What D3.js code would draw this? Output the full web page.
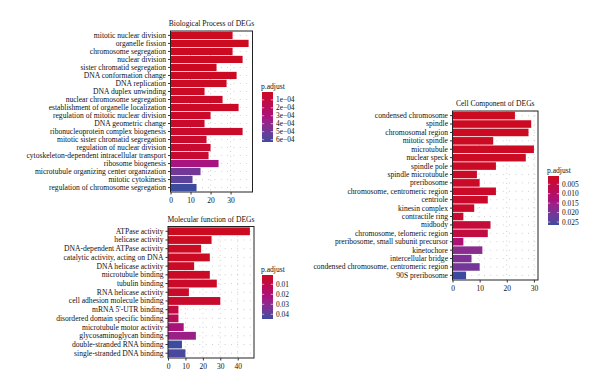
<!DOCTYPE html>
<html><head><meta charset="utf-8">
<script src="https://cdn.jsdelivr.net/npm/d3@7"></script>
<style>body{margin:0;background:#fff}svg{display:block}text{font-family:"Liberation Serif","DejaVu Serif",serif;fill:#111}</style>
</head><body><svg id="c" width="600" height="390"></svg>
<script>
// ---- Biological Process ----
const bpTerms = ["mitotic nuclear division","organelle fission","chromosome segregation","nuclear division","sister chromatid segregation","DNA conformation change","DNA replication","DNA duplex unwinding","nuclear chromosome segregation","establishment of organelle localization","regulation of mitotic nuclear division","DNA geometric change","ribonucleoprotein complex biogenesis","mitotic sister chromatid segregation","regulation of nuclear division","cytoskeleton-dependent intracellular transport","ribosome biogenesis","microtubule organizing center organization","mitotic cytokinesis","regulation of chromosome segregation"];
const bpCounts = [31,39,31,36,23,33,28,17,26,34,20,17,36,18,20,19,24,15,11,13];
const bpPadj = [1e-6,2e-6,3e-6,5e-6,8e-6,1e-5,1.2e-5,1.5e-5,2e-5,2.2e-5,2.5e-5,3e-5,3.5e-5,4e-5,5e-5,5.5e-5,3.2e-4,5.0e-4,5.6e-4,6.3e-4];
const bpXTicks = [0,10,20,30];
const bpLegendTicks = [1e-4,2e-4,3e-4,4e-4,5e-4,6e-4];
const bpLegendLabels = ["1e\u221204","2e\u221204","3e\u221204","4e\u221204","5e\u221204","6e\u221204"];

// ---- Molecular Function ----
const mfTerms = ["ATPase activity","helicase activity","DNA-dependent ATPase activity","catalytic activity, acting on DNA","DNA helicase activity","microtubule binding","tubulin binding","RNA helicase activity","cell adhesion molecule binding","mRNA 5'-UTR binding","disordered domain specific binding","microtubule motor activity","glycosaminoglycan binding","double-stranded RNA binding","single-stranded DNA binding"];
const mfCounts = [47,25,19,24,15,24,28,12,30,6,6,9,16,8,10];
const mfPadj = [0.0007,0.0009,0.0012,0.0015,0.0018,0.002,0.0024,0.003,0.0035,0.0075,0.013,0.022,0.026,0.0447,0.043];
const mfXTicks = [0,10,20,30,40];
const mfLegendTicks = [0.01,0.02,0.03,0.04];
const mfLegendLabels = ["0.01","0.02","0.03","0.04"];

// ---- Cell Component ----
const ccTerms = ["condensed chromosome","spindle","chromosomal region","mitotic spindle","microtubule","nuclear speck","spindle pole","spindle microtubule","preribosome","chromosome, centromeric region","centriole","kinesin complex","contractile ring","midbody","chromosome, telomeric region","preribosome, small subunit precursor","kinetochore","intercellular bridge","condensed chromosome, centromeric region","90S preribosome"];
const ccCounts = [23,29,28,15,30,27,16,9,10,16,13,8,4,14,13,4,11,7,10,5];
const ccPadj = [0.0006,0.0007,0.0008,0.0009,0.001,0.0011,0.0012,0.0013,0.0014,0.0016,0.0018,0.002,0.0025,0.0038,0.0048,0.012,0.018,0.0195,0.021,0.0266];
const ccXTicks = [0,10,20,30];
const ccLegendTicks = [0.005,0.010,0.015,0.020,0.025];
const ccLegendLabels = ["0.005","0.010","0.015","0.020","0.025"];

const svg = d3.select("#c");
const colorStops = ["#CC0A20","#A8127E","#7A3296","#3C4B9E"];
function makeColor(dom){
  const t = d3.scaleLinear().domain(dom).range([0,1]);
  const c = d3.scaleLinear().domain([0,0.5,0.75,1]).range(colorStops).interpolate(d3.interpolateLab);
  return v => c(Math.max(0,Math.min(1,t(v))));
}

function panel(o){
  const g = svg.append("g");
  const x = d3.scaleLinear().domain([0, d3.max(o.counts)*1.05]).range([o.x0,o.x1]);
  const y = d3.scaleBand().domain(o.terms).range([o.y0,o.y1]).paddingInner(0.1).paddingOuter(0.1);
  const pdom = d3.extent(o.padj);
  const col = makeColor(pdom);
  // grid
  g.append("g").selectAll("line").data(o.terms).join("line")
    .attr("x1",o.x0).attr("x2",o.x1).attr("y1",d=>y(d)+y.bandwidth()/2).attr("y2",d=>y(d)+y.bandwidth()/2)
    .attr("stroke","#aaa").attr("stroke-width",0.7).attr("stroke-dasharray","0.8,5.5");
  g.append("g").selectAll("line").data(o.xticks).join("line")
    .attr("x1",d=>x(d)).attr("x2",d=>x(d)).attr("y1",o.y0).attr("y2",o.y1)
    .attr("stroke","#aaa").attr("stroke-width",0.7).attr("stroke-dasharray","0.8,4");
  // bars
  g.append("g").selectAll("rect").data(o.terms).join("rect")
    .attr("x",x(0)).attr("y",d=>y(d)).attr("height",y.bandwidth())
    .attr("width",(d,i)=>x(o.counts[i])-x(0))
    .attr("fill",(d,i)=>col(o.padj[i]));
  // frame
  g.append("rect").attr("x",o.x0).attr("y",o.y0).attr("width",o.x1-o.x0).attr("height",o.y1-o.y0)
    .attr("fill","none").attr("stroke","#222").attr("stroke-width",1);
  // y axis
  const ya = g.append("g").attr("transform",`translate(${o.x0},0)`).call(d3.axisLeft(y).tickSize(2.5).tickPadding(2));
  ya.select(".domain").remove();
  ya.selectAll("text").style("font-size","7.6px").style("font-family","Liberation Serif").attr("fill","#111");
  ya.selectAll("line").attr("stroke","#333");
  // x axis
  const xa = g.append("g").attr("transform",`translate(0,${o.y1})`).call(d3.axisBottom(x).tickValues(o.xticks).tickSize(2.5).tickPadding(3));
  xa.select(".domain").remove();
  xa.selectAll("text").style("font-size","7.5px").style("font-family","Liberation Serif").attr("fill","#111");
  xa.selectAll("line").attr("stroke","#333");
  // title
  g.append("text").attr("x",(o.x0+o.x1)/2).attr("y",o.y0-5).attr("text-anchor","middle")
    .style("font-size","7.6px").text(o.title);
  // legend
  const L = o.legend;
  const lg = svg.append("g");
  lg.append("text").attr("x",L.x-1).attr("y",L.y-3).style("font-size","7.6px").text("p.adjust");
  const gradId = "grad"+o.id;
  const grad = svg.append("defs").append("linearGradient").attr("id",gradId).attr("x1",0).attr("x2",0).attr("y1",0).attr("y2",1);
  d3.range(0,1.0001,0.05).forEach(s=>{
    grad.append("stop").attr("offset",s).attr("stop-color",col(pdom[0]+s*(pdom[1]-pdom[0])));
  });
  lg.append("rect").attr("x",L.x).attr("y",L.y).attr("width",11).attr("height",L.h).attr("fill",`url(#${gradId})`);
  const ly = d3.scaleLinear().domain(pdom).range([L.y,L.y+L.h]);
  o.ltick.forEach((v,i)=>{
    const yy = ly(v);
    lg.append("line").attr("x1",L.x).attr("x2",L.x+2.2).attr("y1",yy).attr("y2",yy).attr("stroke","#fff").attr("stroke-width",0.6);
    lg.append("line").attr("x1",L.x+8.8).attr("x2",L.x+11).attr("y1",yy).attr("y2",yy).attr("stroke","#fff").attr("stroke-width",0.6);
    lg.append("text").attr("x",L.x+14).attr("y",yy).attr("dy","0.35em").style("font-size","7.4px").text(o.llab[i]);
  });
}

panel({id:"bp",terms:bpTerms,counts:bpCounts,padj:bpPadj,xticks:bpXTicks,title:"Biological Process of DEGs",
  x0:170.5,x1:252.5,y0:31,y1:192,legend:{x:262,y:92,h:50},ltick:bpLegendTicks,llab:bpLegendLabels});
panel({id:"mf",terms:mfTerms,counts:mfCounts,padj:mfPadj,xticks:mfXTicks,title:"Molecular function of DEGs",
  x0:168,x1:254,y0:226.5,y1:358,legend:{x:262,y:275,h:44},ltick:mfLegendTicks,llab:mfLegendLabels});
panel({id:"cc",terms:ccTerms,counts:ccCounts,padj:ccPadj,xticks:ccXTicks,title:"Cell Component of DEGs",
  x0:452.5,x1:538,y0:111,y1:280,legend:{x:548,y:176,h:49},ltick:ccLegendTicks,llab:ccLegendLabels});
</script></body></html>
